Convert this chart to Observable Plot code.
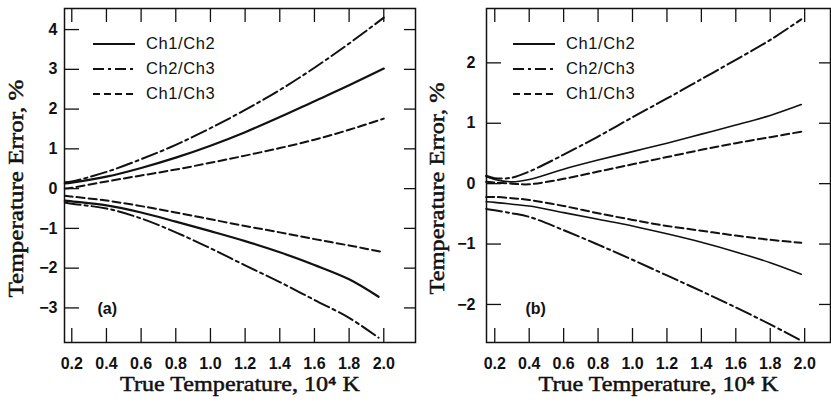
<!DOCTYPE html>
<html><head><meta charset="utf-8">
<script src="https://cdn.jsdelivr.net/npm/d3@7"></script>
<script src="https://cdn.jsdelivr.net/npm/@observablehq/plot@0.6"></script>
<style>
body{margin:0;background:#fff}
#wrap{position:relative;display:flex;width:831px;height:403px;overflow:hidden;background:#fff}
.legend{position:absolute;font-family:"Liberation Sans",Arial,sans-serif;font-size:16.5px;letter-spacing:0.6px;color:#111}
.legend div{display:flex;align-items:center;height:25px}
.legend svg{margin-right:11px}
</style>
</head><body><div id="wrap"></div>
<script>
// ---- data ----
const xTicks = [0.2, 0.4, 0.6, 0.8, 1.0, 1.2, 1.4, 1.6, 1.8, 2.0];
const aYTicks = [-3, -2, -1, 0, 1, 2, 3, 4];
const bYTicks = [-2, -1, 0, 1, 2];
const seriesNames = ["Ch1/Ch2", "Ch2/Ch3", "Ch1/Ch3"];
const xLabel = "True Temperature, 10\u2074 K";
const yLabel = "Temperature Error, %";

// panel (a)
const aX     = [0.16, 0.2, 0.4, 0.6, 0.8, 1.0, 1.2, 1.4, 1.6, 1.8, 2.0];
const aXLow  = [0.16, 0.2, 0.4, 0.6, 0.8, 1.0, 1.2, 1.4, 1.6, 1.8, 1.97];
const aCh12Up  = [0.13, 0.15, 0.30, 0.52, 0.78, 1.08, 1.42, 1.80, 2.20, 2.60, 3.02];
const aCh23Up  = [0.16, 0.18, 0.42, 0.74, 1.10, 1.52, 1.98, 2.48, 3.04, 3.65, 4.30];
const aCh13Up  = [0.00, 0.02, 0.18, 0.33, 0.48, 0.65, 0.83, 1.02, 1.23, 1.48, 1.76];
const aCh12Low = [-0.30, -0.32, -0.42, -0.60, -0.83, -1.07, -1.32, -1.60, -1.92, -2.28, -2.72];
const aCh23Low = [-0.35, -0.38, -0.50, -0.75, -1.10, -1.50, -1.93, -2.35, -2.80, -3.25, -3.75];
const aCh13Low = [-0.18, -0.20, -0.30, -0.44, -0.60, -0.77, -0.94, -1.10, -1.27, -1.43, -1.60];

// panel (b)
const bX     = [0.15, 0.2, 0.3, 0.4, 0.6, 0.8, 1.0, 1.2, 1.4, 1.6, 1.8, 1.98];
const bCh12Up  = [0.12, 0.07, 0.03, 0.07, 0.24, 0.39, 0.53, 0.67, 0.82, 0.97, 1.13, 1.31];
const bCh23Up  = [0.13, 0.09, 0.10, 0.20, 0.48, 0.78, 1.10, 1.41, 1.73, 2.05, 2.38, 2.72];
const bCh13Up  = [0.03, 0.02, 0.00, -0.01, 0.08, 0.20, 0.32, 0.44, 0.56, 0.67, 0.77, 0.86];
const bCh12Low = [-0.30, -0.31, -0.34, -0.37, -0.48, -0.59, -0.70, -0.83, -0.97, -1.13, -1.31, -1.50];
const bCh23Low = [-0.42, -0.44, -0.49, -0.55, -0.77, -1.01, -1.26, -1.52, -1.78, -2.05, -2.33, -2.60];
const bCh13Low = [-0.22, -0.22, -0.24, -0.27, -0.37, -0.49, -0.60, -0.70, -0.78, -0.86, -0.93, -0.98];

// ---- build tables ----
function rows(xs, ys, series, branch) {
  return xs.map((x, i) => ({x, y: ys[i], series, branch}));
}
const aData = [
  ...rows(aX, aCh12Up, "Ch1/Ch2", "up"), ...rows(aXLow, aCh12Low, "Ch1/Ch2", "low"),
  ...rows(aX, aCh23Up, "Ch2/Ch3", "up"), ...rows(aXLow, aCh23Low, "Ch2/Ch3", "low"),
  ...rows(aX, aCh13Up, "Ch1/Ch3", "up"), ...rows(aX, aCh13Low, "Ch1/Ch3", "low")
];
const bData = [
  ...rows(bX, bCh12Up, "Ch1/Ch2", "up"), ...rows(bX, bCh12Low, "Ch1/Ch2", "low"),
  ...rows(bX, bCh23Up, "Ch2/Ch3", "up"), ...rows(bX, bCh23Low, "Ch2/Ch3", "low"),
  ...rows(bX, bCh13Up, "Ch1/Ch3", "up"), ...rows(bX, bCh13Low, "Ch1/Ch3", "low")
];

const styles = {
  "Ch1/Ch2": {dash: null, width: 1.9},
  "Ch2/Ch3": {dash: "16,4,3,4", width: 2},
  "Ch1/Ch3": {dash: "8,4", width: 2}
};
const INK = "#111";
const SERIF = "Liberation Serif, Times New Roman, serif";

function panel({data, width, marginLeft, marginRight, xDomain, yDomain, yTicks, tag, tagDx,
                ylabelDx, ylabelLen, yPad, solidWidth}) {
  const H = 403, mt = 8, mb = 61;
  const fh = H - mt - mb, fw = width - marginLeft - marginRight;
  const lineMarks = seriesNames.map(s => Plot.line(data.filter(d => d.series === s), {
    x: "x", y: "y", z: "branch", stroke: INK,
    strokeWidth: s === "Ch1/Ch2" ? solidWidth : styles[s].width,
    strokeDasharray: styles[s].dash, curve: "catmull-rom"
  }));
  const svg = Plot.plot({
    width, height: H, marginTop: mt, marginBottom: mb, marginLeft, marginRight,
    x: {domain: xDomain, axis: null},
    y: {domain: yDomain, axis: null},
    style: {fontFamily: "Liberation Sans, Arial, sans-serif", background: "white", color: INK, overflow: "visible"},
    marks: [
      Plot.frame({stroke: INK, strokeWidth: 1.5}),
      Plot.tickX(xTicks, {x: d => d, insetTop: fh - 14, stroke: INK, strokeWidth: 1.3}),
      Plot.tickX(xTicks, {x: d => d, insetBottom: fh - 14, stroke: INK, strokeWidth: 1.3}),
      Plot.tickY(yTicks, {y: d => d, insetRight: fw - 15, stroke: INK, strokeWidth: 1.3}),
      Plot.tickY(yTicks, {y: d => d, insetLeft: fw - 11, stroke: INK, strokeWidth: 1.3}),
      Plot.axisX(xTicks, {tickSize: 0, tickPadding: 15, tickFormat: d3.format(".1f"), fontSize: 16, fontWeight: "bold", label: null}),
      Plot.axisY(yTicks, {tickSize: 0, tickPadding: yPad, tickFormat: d3.format("d"), fontSize: 16, fontWeight: "bold", label: null}),
      ...lineMarks,
      Plot.text([xLabel], {frameAnchor: "bottom", dy: 48, text: d => d, textAnchor: "middle",
        fontFamily: SERIF, fontSize: 22, fill: INK, stroke: INK, strokeWidth: 0.5}),
      Plot.text([yLabel], {frameAnchor: "left", dx: ylabelDx, dy: 13, rotate: -90, text: d => d, textAnchor: "middle",
        fontFamily: SERIF, fontSize: 22, fill: INK, stroke: INK, strokeWidth: 0.5}),
      Plot.text([tag], {frameAnchor: "bottom-left", dx: tagDx, dy: -29, textAnchor: "start", text: d => d,
        fontSize: 16, fontWeight: "bold", fill: INK})
    ]
  });
  // stretch the serif labels to the widths seen in the reference
  d3.select(svg).selectAll("text").each(function() {
    const t = this.textContent;
    if (t === xLabel) d3.select(this).attr("textLength", 240).attr("lengthAdjust", "spacingAndGlyphs");
    if (t === yLabel) d3.select(this).attr("textLength", ylabelLen).attr("lengthAdjust", "spacingAndGlyphs");
  });
  return svg;
}

const wrap = document.getElementById("wrap");
wrap.appendChild(panel({data: aData, width: 420, marginLeft: 64, marginRight: 5,
  xDomain: [0.158, 2.183], yDomain: [-3.87, 4.53], yTicks: aYTicks, tag: "(a)", tagDx: 33,
  ylabelDx: -49, ylabelLen: 218, yPad: 7, solidWidth: 2.2}));
wrap.appendChild(panel({data: bData, width: 411, marginLeft: 66, marginRight: 1,
  xDomain: [0.152, 2.15], yDomain: [-2.63, 2.9], yTicks: bYTicks, tag: "(b)", tagDx: 39,
  ylabelDx: -50, ylabelLen: 212, yPad: 11, solidWidth: 1.6}));

function legend(left, top) {
  const div = document.createElement("div");
  div.className = "legend";
  div.style.left = left + "px";
  div.style.top = top + "px";
  for (const s of seriesNames) {
    const row = document.createElement("div");
    const svg = d3.create("svg").attr("width", 42).attr("height", 6);
    svg.append("line").attr("x1", 0).attr("x2", 42).attr("y1", 3).attr("y2", 3)
      .attr("stroke", INK).attr("stroke-width", 2.2)
      .attr("stroke-dasharray", s === "Ch2/Ch3" ? "11,4,3,4" : styles[s].dash ? "7,4" : null);
    row.appendChild(svg.node());
    row.appendChild(document.createTextNode(s));
    div.appendChild(row);
  }
  wrap.appendChild(div);
}
legend(93, 31);
legend(513, 31);
</script>
</body></html>
